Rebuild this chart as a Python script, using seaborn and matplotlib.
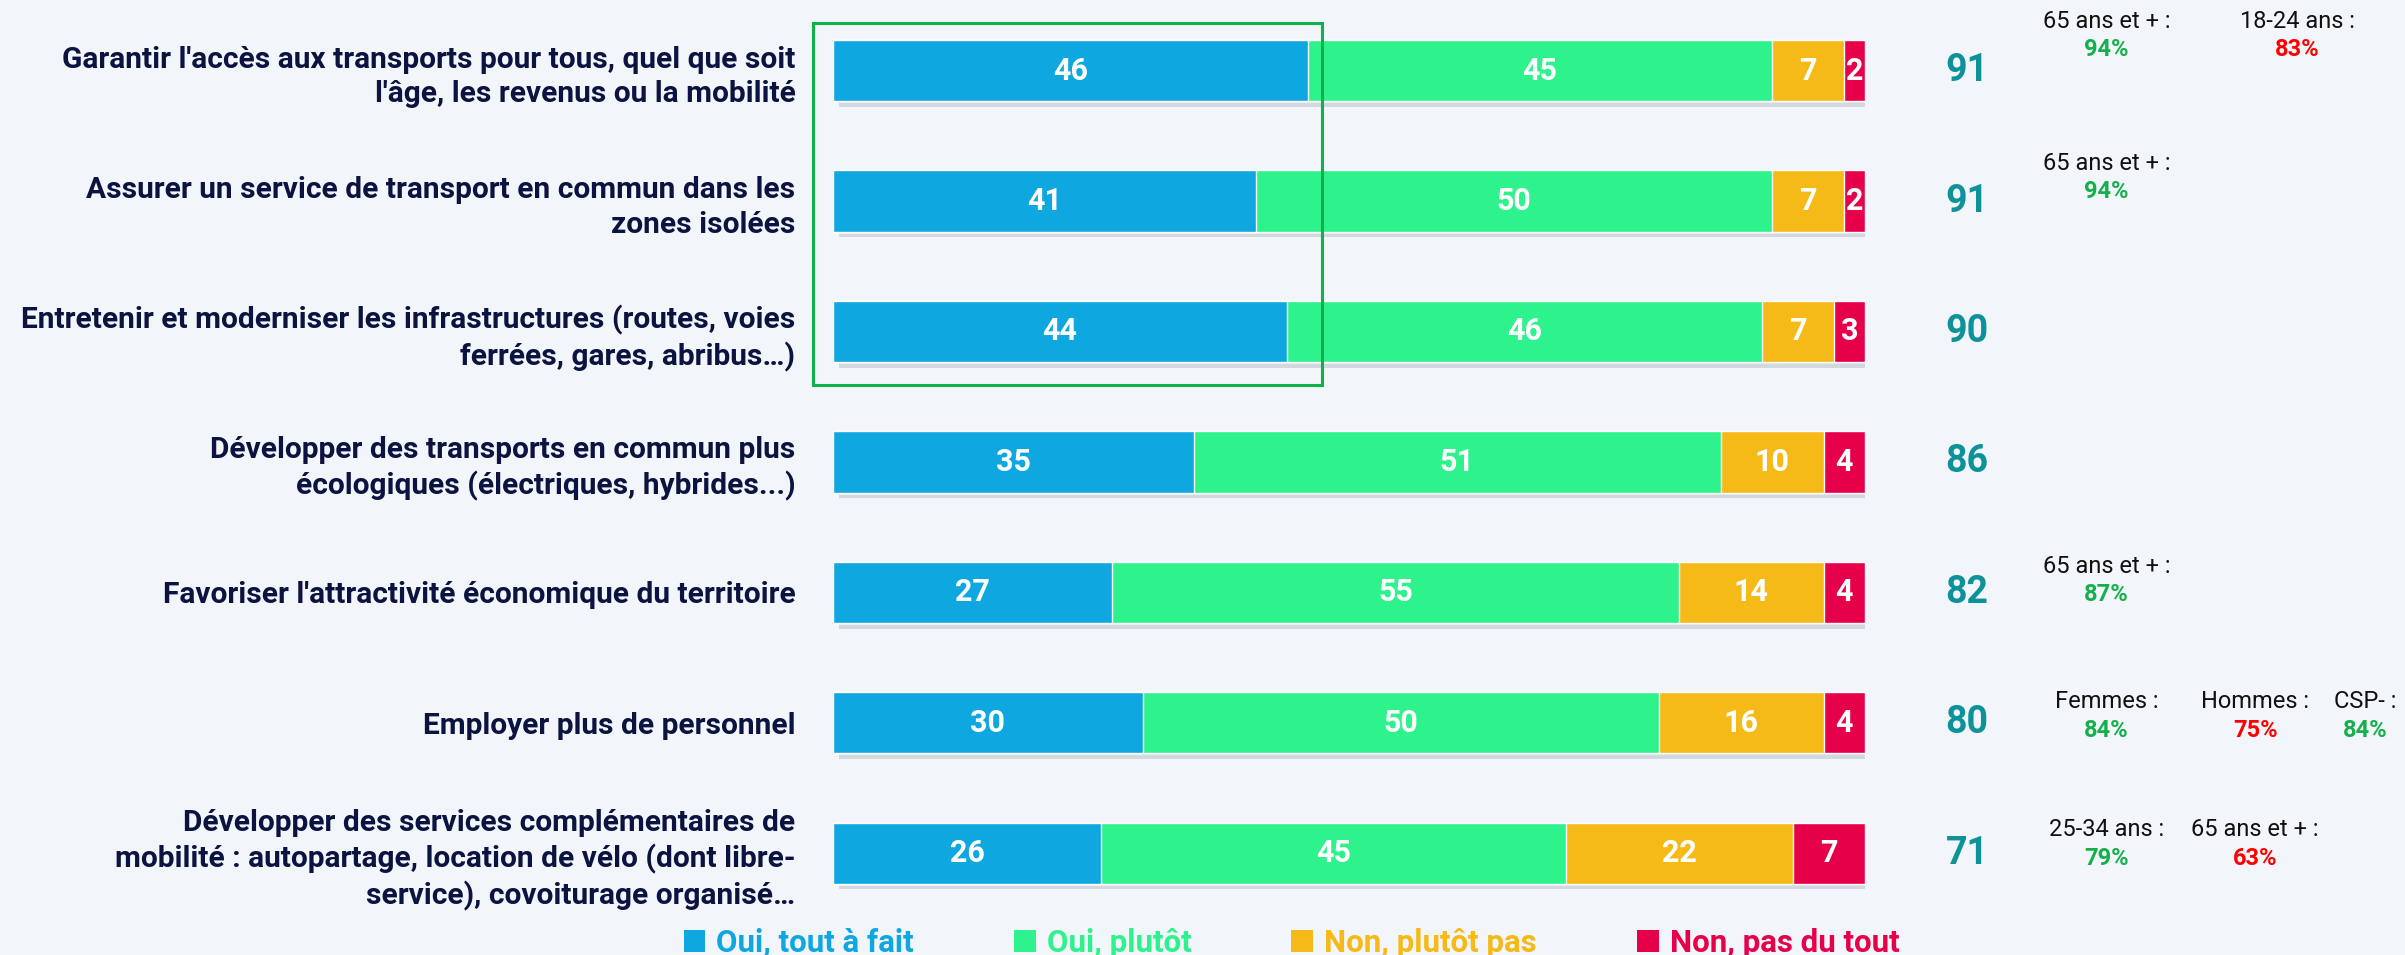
import numpy as np
import pandas as pd
import matplotlib
matplotlib.use('Agg')
import matplotlib.pyplot as plt
import matplotlib.patheffects as pe
from matplotlib.patches import Patch, Rectangle
import seaborn as sns

# ---- data -------------------------------------------------------------
labels = [
    "Garantir l'accès aux transports pour tous, quel que soit\nl'âge, les revenus ou la mobilité",
    "Assurer un service de transport en commun dans les\nzones isolées",
    "Entretenir et moderniser les infrastructures (routes, voies\nferrées, gares, abribus…)",
    "Développer des transports en commun plus\nécologiques (électriques, hybrides...)",
    "Favoriser l'attractivité économique du territoire",
    "Employer plus de personnel",
    "Développer des services complémentaires de\nmobilité : autopartage, location de vélo (dont libre-\nservice), covoiturage organisé…",
]
oui_tout_a_fait = [46, 41, 44, 35, 27, 30, 26]
oui_plutot = [45, 50, 46, 51, 55, 50, 45]
non_plutot_pas = [7, 7, 7, 10, 14, 16, 22]
non_pas_du_tout = [2, 2, 3, 4, 4, 4, 7]
total_oui = [91, 91, 90, 86, 82, 80, 71]

series_names = ["Oui, tout à fait", "Oui, plutôt", "Non, plutôt pas", "Non, pas du tout"]
series_colors = ["#0EA7E0", "#2EF28C", "#F5BA18", "#E6004A"]

sub_labels = [["65 ans et + :", "18-24 ans :"], ["65 ans et + :"], [], [],
              ["65 ans et + :"], ["Femmes :", "Hommes :", "CSP- :"],
              ["25-34 ans :", "65 ans et + :"]]
sub_values = [[94, 83], [94], [], [], [87], [84, 75, 84], [79, 63]]

# ---- layout -----------------------------------------------------------
BG = "#F2F5FA"
NAVY = "#0B1340"
TEAL = "#0E9299"
sub_x = [[123.4, 141.9], [123.4], [], [], [123.4], [123.4, 137.8, 148.5],
         [123.4, 137.8]]
sub_dy = [-0.27, -0.18, 0, 0, -0.09, -0.05, -0.07]

sns.set_style("white")
plt.rcParams['font.family'] = ['Roboto', 'DejaVu Sans']

values = np.array([oui_tout_a_fait, oui_plutot, non_plutot_pas, non_pas_du_tout])
cums = values.cumsum(axis=0)

fig = plt.figure(figsize=(24.05, 9.55), dpi=100, facecolor=BG)
ax = fig.add_axes([833 / 2405, 0, 1032 / 2405, 1])
ax.set_facecolor(BG)

# stacked bars: draw cumulative totals from the widest to the narrowest
for k in range(3, -1, -1):
    df = pd.DataFrame({"label": labels, "value": cums[k]})
    n_before = len(ax.patches)
    sns.barplot(data=df, x="value", y="label", order=labels, orient="h",
                color=series_colors[k], saturation=1, width=0.47,
                errorbar=None, ax=ax)
    if k == 3:
        for p in ax.patches[n_before:]:
            p.set_path_effects([pe.withSimplePatchShadow(offset=(4, -4),
                                shadow_rgbFace="#9aa2ac", alpha=0.35),
                                pe.Normal()])

# segment values
for k in range(4):
    for i in range(len(labels)):
        v = values[k, i]
        ax.text(cums[k, i] - v / 2, i, f"{v}", ha="center", va="center",
                color="white", fontsize=22, fontweight="bold")

# total "oui"
for i, t in enumerate(total_oui):
    ax.text(109.9, i, f"{t}", ha="center", va="center", color=TEAL,
            fontsize=27, fontweight="bold", clip_on=False)

# subgroup annotations
for i in range(len(labels)):
    for name, val, x in zip(sub_labels[i], sub_values[i], sub_x[i]):
        col = "#14B04C" if val > total_oui[i] else "#FF0000"
        ax.text(x, i + sub_dy[i] - 0.11, name, ha="center", va="center",
                color="#111111", fontsize=17, clip_on=False)
        ax.text(x, i + sub_dy[i] + 0.11, f"{val}%", ha="center", va="center",
                color=col, fontsize=17, fontweight="bold", clip_on=False)

# highlight frame around first three rows
ax.add_patch(Rectangle((-1.94, -0.365), 49.3, 2.775, fill=False,
                       edgecolor="#10B04A", linewidth=2.2, clip_on=False))

ax.set_xlim(0, 100)
ax.set_ylim(6.78, -0.541)
ax.set_xlabel("")
ax.set_ylabel("")
ax.set_xticks([])
ax.tick_params(axis="y", length=0, pad=27)
for t in ax.get_yticklabels():
    t.set_fontsize(21.5)
    t.set_fontweight("bold")
    t.set_color(NAVY)
    t.set_linespacing(1.3)
sns.despine(ax=ax, left=True, bottom=True)

handles = [Patch(facecolor=c, edgecolor="none") for c in series_colors]
fig.legend(handles, series_names, loc="center", bbox_to_anchor=(0.537, 0.013),
           ncol=4, frameon=False, prop={"weight": "bold", "size": 22.5},
           labelcolor=series_colors, handlelength=0.7, handleheight=0.7,
           handletextpad=0.35, columnspacing=3.2)

fig.savefig("out.png", dpi=100, facecolor=BG)
